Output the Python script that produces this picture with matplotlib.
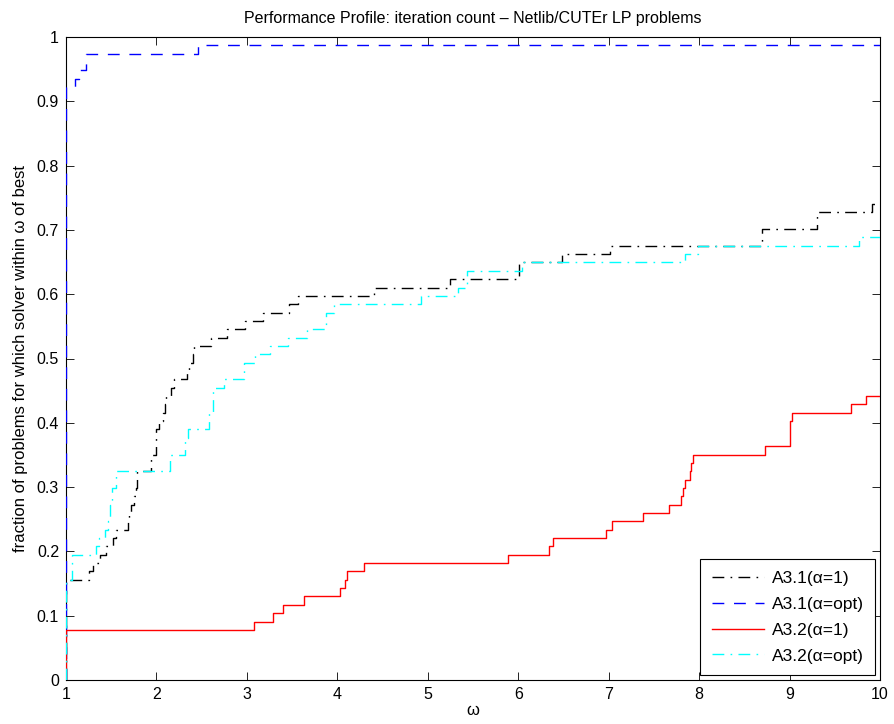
import matplotlib
matplotlib.use("Agg")
import matplotlib.pyplot as plt
import numpy as np

plt.rcParams['font.family'] = ['Liberation Sans', 'DejaVu Sans']

n_problems = 77

# A3.1 (alpha=1): omega at which count of solved problems steps up
a31_1_x = [1.0, 1.0, 1.25, 1.30, 1.38, 1.44, 1.52, 1.55, 1.68, 1.70, 1.72, 1.75, 1.77, 1.79,
           1.94, 1.99, 2.03, 2.07, 2.09, 2.11, 2.16, 2.19, 2.34, 2.36, 2.40, 2.42, 2.60,
           2.78, 2.98, 3.18, 3.47, 3.57, 4.40, 5.25, 6.01, 6.48, 7.01, 8.69, 9.30, 9.91]
a31_1_n = [0, 12, 13, 14, 15, 16, 17, 18, 19, 20, 21, 22, 23, 25,
           27, 30, 31, 32, 33, 34, 35, 36, 37, 38, 39, 40, 41,
           42, 43, 44, 45, 46, 47, 48, 50, 51, 52, 54, 56, 57]

# A3.1 (alpha=opt)
a31_opt_x = [1.0, 1.0, 1.10, 1.14, 1.22, 2.46]
a31_opt_n = [0, 71, 72, 73, 75, 76]

# A3.2 (alpha=1)
a32_1_x = [1.0, 1.0, 3.08, 3.29, 3.40, 3.63, 4.03, 4.09, 4.11, 4.29, 5.89, 6.34, 6.39,
           6.97, 7.04, 7.38, 7.67, 7.80, 7.82, 7.84, 7.90, 7.91, 7.93, 8.73, 9.01,
           9.03, 9.68, 9.85]
a32_1_n = [0, 6, 7, 8, 9, 10, 11, 12, 13, 14, 15, 16, 17,
           18, 19, 20, 21, 22, 23, 24, 25, 26, 27, 28, 31,
           32, 33, 34]

# A3.2 (alpha=opt)
a32_opt_x = [1.0, 1.0, 1.07, 1.33, 1.36, 1.43, 1.46, 1.49, 1.51, 1.55, 2.15, 2.32, 2.35,
             2.585, 2.62, 2.75, 2.97, 3.09, 3.26, 3.45, 3.66, 3.87, 3.96, 4.93, 5.33,
             5.43, 6.04, 7.84, 7.99, 9.77]
a32_opt_n = [0, 12, 15, 16, 17, 18, 19, 21, 23, 25, 27, 29, 30,
             32, 35, 36, 38, 39, 40, 41, 42, 44, 45, 46, 47,
             49, 50, 51, 52, 53]

labels = ['A3.1(\u03b1=1)', 'A3.1(\u03b1=opt)', 'A3.2(\u03b1=1)', 'A3.2(\u03b1=opt)']
x_max = 10

fig = plt.figure(figsize=(8.95, 7.24), dpi=100)
ax = fig.add_axes([66/895, 44/724, (880-66)/895, (680-37)/724])

def prof(xs, ns):
    xs = list(xs) + [x_max]
    ns = list(ns) + [ns[-1]]
    return np.array(xs), np.array(ns) / n_problems

series = [
    (a31_1_x, a31_1_n, dict(color='black', dashes=(8.5, 4.5, 1.2, 4.5))),
    (a31_opt_x, a31_opt_n, dict(color='#0000ff', dashes=(8.5, 7))),
    (a32_1_x, a32_1_n, dict(color='#ff0000', linestyle='-')),
    (a32_opt_x, a32_opt_n, dict(color='#00ffff', dashes=(8.5, 4.5, 1.2, 4.5))),
]
for (xs, ns, st), lab in zip(series, labels):
    X, Y = prof(xs, ns)
    ax.plot(X, Y, drawstyle='steps-post', lw=1.0, label=lab, zorder=3, **st)

ax.set_xlim(1, 10)
ax.set_ylim(0, 1)
ax.set_xticks(range(1, 11))
ax.set_yticks(np.arange(0, 1.01, 0.1))
ax.set_yticklabels(['0', '0.1', '0.2', '0.3', '0.4', '0.5', '0.6', '0.7', '0.8', '0.9', '1'])
ax.tick_params(direction='in', length=6, width=0.6, top=True, right=True,
               labelsize=11.5, pad=5)
for s in ax.spines.values():
    s.set_linewidth(0.8)

ax.set_title('Performance Profile: iteration count \u2013 Netlib/CUTEr LP problems',
             fontsize=11.5, pad=10)
ax.set_xlabel('\u03c9', fontsize=12, labelpad=1)
ax.set_ylabel('fraction of problems for which solver within \u03c9 of best', fontsize=12,
              labelpad=6)

leg = ax.legend(loc='lower right', fontsize=12.5, handlelength=3.0, fancybox=False,
                edgecolor='black', framealpha=1, borderaxespad=0.3, labelspacing=0.62,
                handletextpad=0.45, borderpad=0.65)
leg.get_frame().set_linewidth(0.8)

fig.savefig('out.png', dpi=100)
